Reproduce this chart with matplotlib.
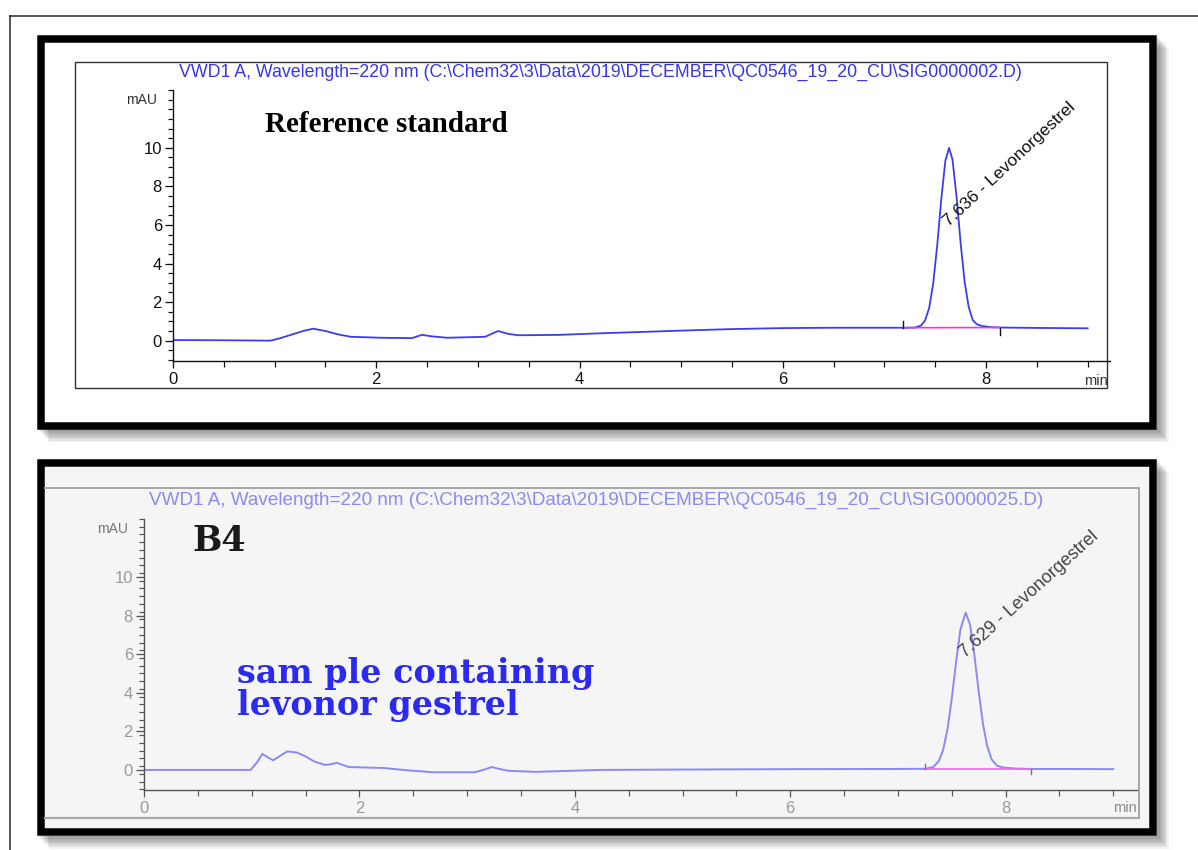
import matplotlib
matplotlib.use("Agg")
import numpy as np
import matplotlib.pyplot as plt
from matplotlib.patches import Rectangle
from matplotlib.lines import Line2D
from matplotlib.ticker import FixedLocator

# ---- chromatogram 1: reference standard ----
title_std = r"VWD1 A, Wavelength=220 nm (C:\Chem32\3\Data\2019\DECEMBER\QC0546_19_20_CU\SIG0000002.D)"
time_std = [0.0, 0.5, 0.96, 1.05, 1.16, 1.28, 1.38, 1.5, 1.62, 1.75,
            2.05, 2.35, 2.45, 2.55, 2.7, 3.07, 3.2, 3.3, 3.4, 3.8,
            4.2, 4.6, 5.0, 5.5, 6.0, 6.5, 7.0, 7.2, 7.3, 7.36,
            7.40, 7.44, 7.48, 7.52, 7.56, 7.60, 7.636, 7.67, 7.71, 7.75,
            7.79, 7.83, 7.87, 7.91, 7.96, 8.05, 8.15, 8.5, 9.0]
mau_std = [0.03, 0.02, 0.0, 0.12, 0.3, 0.5, 0.62, 0.5, 0.33, 0.2,
           0.15, 0.13, 0.3, 0.22, 0.15, 0.2, 0.5, 0.35, 0.28, 0.3,
           0.38, 0.45, 0.52, 0.6, 0.65, 0.67, 0.67, 0.67, 0.68, 0.78,
           1.04, 1.68, 2.95, 4.95, 7.35, 9.33, 10.0, 9.4, 7.47, 5.07,
           3.04, 1.73, 1.06, 0.85, 0.76, 0.7, 0.68, 0.66, 0.64]
rt_std = 7.636
label_std = "7.636 - Levonorgestrel"
base_std_t = [7.18, 8.14]
base_std_y = [0.67, 0.68]

# ---- chromatogram 2: sample B4 ----
title_smp = r"VWD1 A, Wavelength=220 nm (C:\Chem32\3\Data\2019\DECEMBER\QC0546_19_20_CU\SIG0000025.D)"
time_smp = [0.0, 0.5, 0.99, 1.05, 1.10, 1.15, 1.2, 1.27, 1.33, 1.42,
            1.5, 1.58, 1.68, 1.74, 1.79, 1.85, 1.9, 2.22, 2.47, 2.68,
            3.07, 3.15, 3.23, 3.3, 3.39, 3.64, 4.23, 5.0, 6.0, 7.0,
            7.26, 7.33, 7.38, 7.42, 7.46, 7.50, 7.54, 7.58, 7.629, 7.67,
            7.71, 7.75, 7.79, 7.83, 7.87, 7.92, 7.98, 8.1, 8.24, 8.6,
            9.0]
mau_smp = [0.0, 0.0, 0.0, 0.4, 0.83, 0.65, 0.5, 0.75, 0.96, 0.9,
           0.7, 0.44, 0.26, 0.3, 0.37, 0.25, 0.15, 0.1, -0.03, -0.12,
           -0.12, 0.0, 0.15, 0.05, -0.05, -0.1, 0.0, 0.02, 0.04, 0.05,
           0.06, 0.16, 0.46, 1.04, 2.1, 3.69, 5.58, 7.27, 8.15, 7.52,
           5.96, 4.06, 2.38, 1.21, 0.55, 0.22, 0.12, 0.07, 0.05, 0.05,
           0.04]
rt_smp = 7.629
label_smp = "7.629 - Levonorgestrel"
base_smp_t = [7.25, 8.24]
base_smp_y = [0.05, 0.05]

y_major = [0, 2, 4, 6, 8, 10]
x_major = [0, 2, 4, 6, 8]

W, H = 1198, 850
PX = 72 / 100.0  # points per pixel at dpi 100

fig = plt.figure(figsize=(W / 100, H / 100), dpi=100)
fig.patch.set_facecolor("white")


def fx(x):
    return x / W


def fy(y):
    return 1 - y / H


def frect(x0, y0, x1, y1, **kw):
    r = Rectangle((fx(x0), fy(y1)), fx(x1) - fx(x0), fy(y0) - fy(y1),
                  transform=fig.transFigure, **kw)
    fig.add_artist(r)
    return r


def fline(xs, ys, **kw):
    fig.add_artist(Line2D([fx(x) for x in xs], [fy(y) for y in ys],
                          transform=fig.transFigure, **kw))


# page border
fline([9.5, 9.5], [16, 850], color="#222222", lw=1.5 * PX, zorder=1)
fline([9.5, 1198], [16, 16], color="#222222", lw=1.5 * PX, zorder=1)


def panel(y0, y1, face):
    for k in range(1, 10):
        frect(37.5 + k * 1.3, y0 + k * 1.4, 1157 + k * 1.3, y1 + k * 1.4,
              facecolor="black", edgecolor="none", alpha=0.05, zorder=1)
    frect(37.5, y0, 1157, y1, facecolor=face, edgecolor="none", zorder=2)
    frect(41.25, y0 + 3.75, 1153.25, y1 - 3.75, facecolor="none",
          edgecolor="black", lw=7.5 * PX, joinstyle="miter", zorder=3)


panel(35, 429.5, "white")
panel(459, 836, "#f5f5f5")

# thin chart frame of the first chromatogram
frect(75, 62, 1107, 388, facecolor="none", edgecolor="#333333", lw=1.4 * PX, zorder=3)

# grey window edges of the second chromatogram
fline([45, 1139], [488, 488], color="#a8a8a8", lw=2 * PX, zorder=3)
fline([45, 1139], [818, 818], color="#a8a8a8", lw=2.2 * PX, zorder=3)
fline([1139, 1139], [488, 818], color="#a8a8a8", lw=2 * PX, zorder=3)


def make_axes(left, right, top, bottom, axis_col, label_col, minor_y):
    ax = fig.add_axes([fx(left), fy(bottom), fx(right) - fx(left), fy(top) - fy(bottom)])
    ax.set_zorder(5)
    ax.patch.set_alpha(0)
    ax.set_xlim(0, 9.22)
    ax.set_ylim(-1.04, 13.0)
    for s in ("top", "right"):
        ax.spines[s].set_visible(False)
    for s in ("left", "bottom"):
        ax.spines[s].set_color(axis_col)
        ax.spines[s].set_linewidth(1.4 * PX)
    ax.xaxis.set_major_locator(FixedLocator(x_major))
    ax.xaxis.set_minor_locator(FixedLocator([v for v in np.arange(0.5, 9.01, 0.5) if v % 2]))
    ax.yaxis.set_major_locator(FixedLocator(y_major))
    ax.yaxis.set_minor_locator(FixedLocator([v for v in np.arange(-1, 13.01, minor_y)
                                             if min(abs(v - m) for m in y_major) > 1e-6]))
    ax.tick_params(axis="y", which="major", length=6, width=1.3 * PX, pad=2,
                   color=axis_col, labelcolor=label_col, labelsize=12)
    ax.tick_params(axis="y", which="minor", length=3.5, width=1.2 * PX, color=axis_col)
    ax.tick_params(axis="x", which="major", length=5, width=1.3 * PX, pad=3,
                   color=axis_col, labelcolor=label_col, labelsize=12)
    ax.tick_params(axis="x", which="minor", length=4, width=1.2 * PX, color=axis_col)
    for t in ax.get_xticklabels() + ax.get_yticklabels():
        t.set_family("Liberation Sans")
    return ax


# ---- first chromatogram ----
ax1 = make_axes(173, 1110, 90, 360.7, "#111111", "#111111", 0.5)
ax1.plot(time_std, mau_std, color="#3c3cf0", lw=1.3, solid_joinstyle="round")
ax1.plot(base_std_t, base_std_y, color="#e23ce2", lw=1.2)
ax1.plot([base_std_t[0]] * 2, [base_std_y[0], base_std_y[0] + 0.37], color="#111111", lw=1.0)
ax1.plot([base_std_t[1]] * 2, [base_std_y[1], base_std_y[1] - 0.4], color="#111111", lw=1.0)
ax1.text(rt_std, 5.9, label_std, rotation=43, rotation_mode="anchor",
         ha="left", va="baseline", fontsize=12.5, family="Liberation Sans", color="#111111")

fig.text(fx(600), fy(72), title_std, ha="center", va="center", color="#3535f0",
         fontsize=12.8, family="Liberation Sans", zorder=6)
fig.text(fx(157), fy(100), "mAU", ha="right", va="center", color="#333333",
         fontsize=10, family="Liberation Sans", zorder=6)
fig.text(fx(1108), fy(381), "min", ha="right", va="center", color="#333333",
         fontsize=10.5, family="Liberation Sans", zorder=6)
fig.text(fx(265), fy(124), "Reference standard", ha="left", va="center",
         fontsize=21, weight="bold", family="Liberation Serif", color="black", zorder=6)

# ---- second chromatogram ----
ax2 = make_axes(144, 1137, 519, 790, "#555555", "#9a9a9a", 0.4)
ax2.plot(time_smp, mau_smp, color="#8a8af5", lw=1.4, solid_joinstyle="round")
ax2.plot(base_smp_t, base_smp_y, color="#ee66ee", lw=1.2)
ax2.plot([base_smp_t[0]] * 2, [base_smp_y[0], base_smp_y[0] + 0.25], color="#777777", lw=1.0)
ax2.plot([base_smp_t[1]] * 2, [base_smp_y[1], base_smp_y[1] - 0.25], color="#777777", lw=1.0)
ax2.text(rt_smp, 5.8, label_smp, rotation=42, rotation_mode="anchor",
         ha="left", va="baseline", fontsize=13, family="Liberation Sans", color="#444444")

fig.text(fx(596), fy(500), title_smp, ha="center", va="center", color="#8a8af2",
         fontsize=13.6, family="Liberation Sans", zorder=6)
fig.text(fx(128), fy(529), "mAU", ha="right", va="center", color="#777777",
         fontsize=10, family="Liberation Sans", zorder=6)
fig.text(fx(1137), fy(808), "min", ha="right", va="center", color="#8a8a8a",
         fontsize=10.5, family="Liberation Sans", zorder=6)
fig.text(fx(192), fy(541), "B4", ha="left", va="center", fontsize=25,
         weight="bold", family="DejaVu Serif", color="#1a1a1a", zorder=6)
fig.text(fx(237), fy(674), "sam ple containing", ha="left", va="center", fontsize=24,
         weight="bold", family="DejaVu Serif", color="#2a2af0", zorder=6)
fig.text(fx(237), fy(706), "levonor gestrel", ha="left", va="center", fontsize=24,
         weight="bold", family="DejaVu Serif", color="#2a2af0", zorder=6)

fig.savefig("out.png", dpi=100)
